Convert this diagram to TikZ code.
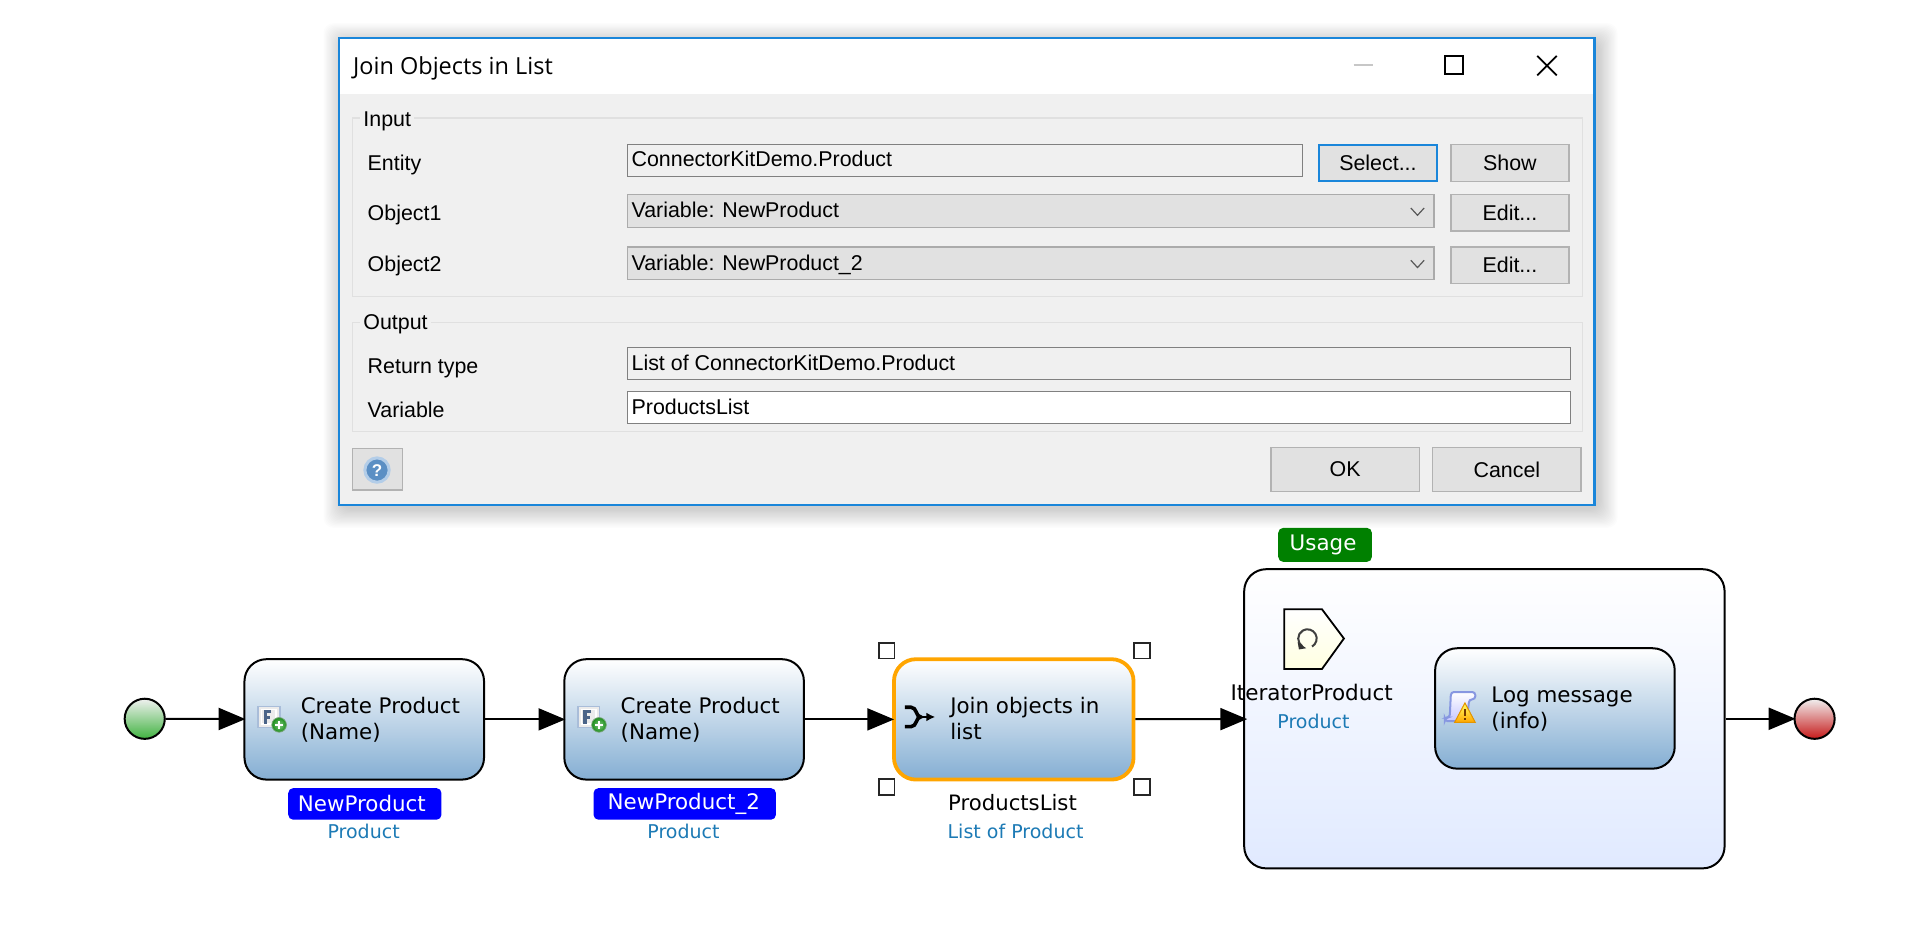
\documentclass[tikz,border=0pt]{standalone}
\usepackage{fontspec}
\setmainfont{DejaVu Sans}
\newfontfamily\dlgfont{Liberation Sans}
\newfontfamily\titlefont{Open Sans}
\usetikzlibrary{arrows.meta,positioning,shapes.geometric}

\newcommand{\ux}{0.608pt}
\definecolor{dlgblue}{HTML}{1A86DA}
\definecolor{dlgbg}{HTML}{F0F0F0}
\definecolor{btnbg}{HTML}{E1E1E1}
\definecolor{procbot}{HTML}{84AED3}
\definecolor{typeblue}{HTML}{1C7AB5}
\definecolor{selorange}{HTML}{FFA500}
\definecolor{iconsteel}{HTML}{4A6488}
\definecolor{iconedge}{HTML}{A9BDD9}
\definecolor{helpblue}{HTML}{5B8FC4}
\definecolor{helpring}{HTML}{B3CDE8}

\tikzset{
  groupbox/.style={draw=black!12,line width=0.6pt},
  legend/.style={fill=dlgbg,inner sep=1.5pt,anchor=base west,font=\dlgfont\fontsize{10.7}{12}\selectfont},
  dlgtext/.style={inner sep=0pt,anchor=base west,font=\dlgfont\fontsize{10.7}{12}\selectfont},
  fieldbox/.style={draw=black!50,fill=dlgbg,line width=0.6pt},
  combobox/.style={draw=black!33,fill=btnbg,line width=0.7pt},
  btn/.style={draw=black!30,fill=btnbg,line width=0.7pt,minimum width=97*\ux,minimum height=30*\ux,inner sep=0pt,font=\dlgfont\fontsize{10.7}{12}\selectfont},
  proc/.style={draw,line width=1pt,rounded corners=11pt,top color=white,bottom color=procbot,minimum width=197*\ux,minimum height=99*\ux},
  proctext/.style={inner sep=0pt,anchor=west,align=left,font=\fontsize{10.7}{12.9}\selectfont},
  event/.style={circle,draw,line width=1pt,minimum size=33*\ux,inner sep=0pt},
  badge/.style={text=white,rounded corners=2.5pt,minimum height=26*\ux,inner sep=0pt,font=\fontsize{10.7}{12}\selectfont},
  typetext/.style={text=typeblue,inner sep=0pt,font=\fontsize{9.5}{11}\selectfont},
  namealone/.style={inner sep=0pt,font=\fontsize{10.6}{12}\selectfont},
  handle/.style={draw=black!85,fill=white,line width=0.8pt,minimum size=13*\ux,inner sep=0pt},
  flow/.style={-{Triangle[length=13.4pt,width=11pt]},line width=1pt,shorten >=-1pt},
  % small icons of the activities
  newobj/.pic={
    \fill[black!8,draw=iconedge,line width=0.8pt] (-11,-9) rectangle (7,8);
    \draw[white,line width=0.8pt] (-8,-6.5) rectangle (4,5.5);
    \draw[iconsteel,line width=1.6pt] (0,-5) -- (-5,-5) -- (-5,5);
    \draw[iconsteel,line width=1.2pt] (-5,0) -- (-1,0);
    \shade[inner color=green!35!white!80!black,outer color=green!50!black!90,draw=green!35!black!55,line width=0.4pt] (6.5,6) circle (6);
    \draw[white,line width=1pt] (3.5,6) -- (9.5,6) (6.5,3) -- (6.5,9);
  },
  joinsym/.pic={
    \draw[line width=1.8pt] (-11,-8) -- (-6,-8) .. controls (-1,-8) and (-2,0) .. (2,0) .. controls (-2,0) and (-1,8) .. (-6,8) -- (-11,8);
    \draw[-{Latex[length=4.5pt,width=4.5pt]},line width=1pt] (2,0) -- (14,0);
  },
  logsym/.pic={
    \draw[top color=white,bottom color=blue!22!white,draw=iconedge!80!blue,line width=1pt,rounded corners=1.5pt] (-7,-12) -- (13,-12) -- (13,-6) -- (8,-6) -- (6,12) -- (-12,12) -- (-12,9) -- (-8,9) -- cycle;
    \fill[top color=yellow!60!white,bottom color=orange!70!yellow,draw=orange!70!yellow!90!black,line width=0.5pt] (4.5,-3) -- (13,13) -- (-4,13) -- cycle;
    \draw[black!55!orange,line width=0.8pt] (4.5,2) -- (4.5,8) (4.5,9.5) -- (4.5,11);
  },
  loopsym/.pic={
    \draw[black!75,line width=1pt] (3.8,6.6) arc (60:-235:7.6);
    \fill[black!80] (-8,3) -- (-1,8) -- (-7,9) -- cycle;
  },
}

\begin{document}
\begin{tikzpicture}[x=\ux,y=-\ux,on grid]
\useasboundingbox (0,0) rectangle (1568,769.6);

% dialog window
\foreach \s in {1,...,16}
  \fill[black,opacity=0.011,rounded corners=5pt] (282-\s,35-\s) rectangle (1314+\s,418+\s);
\fill[dlgbg] (279,31) rectangle (1311,415);
\fill[white] (279,31) rectangle (1311,77);
\draw[dlgblue,line width=1.1pt] (279,31) rectangle (1311,415);
\node[inner sep=0pt,anchor=base west,font=\titlefont\fontsize{11.75}{13}\selectfont] (title) at (290,61) {Join Objects in List};
\draw[black!22,line width=1pt] (1113,53.5) -- (1129,53.5);
\draw[line width=1.1pt] (1188,46) rectangle (1203,61);
\draw[line width=0.9pt] (1264,46) -- (1280,62) (1280,46) -- (1264,62);

\draw[groupbox] (290,97) rectangle (1301,244);
\draw[groupbox] (290,265) rectangle (1301,355);
\node[legend] (input) at (296,104) {Input};
\node[legend] (output) at (296,271) {Output};

\node[dlgtext] (lentity) at (302,140) {Entity};
\node[dlgtext] (lobject1) at (302,181) {Object1};
\node[dlgtext] (lobject2) at (302,223) {Object2};
\node[dlgtext] (lreturn) at (302,307) {Return type};
\node[dlgtext] (lvariable) at (302,343) {Variable};

\draw[fieldbox] (516,119) rectangle (1071,145);
\draw[combobox] (516,160) rectangle (1179,187);
\draw[combobox] (516,203) rectangle (1179,230);
\draw[fieldbox] (516,286) rectangle (1291,312);
\draw[fieldbox,fill=white] (516,322) rectangle (1291,348);
\node[dlgtext] (ventity) at (519,137) {ConnectorKitDemo.Product};
\node[dlgtext] (vobject1) at (519,179) {Variable: NewProduct};
\node[dlgtext] (vobject2) at (519,222) {Variable: NewProduct\_2};
\node[dlgtext] (vreturn) at (519,305) {List of ConnectorKitDemo.Product};
\node[dlgtext] (vvariable) at (519,341) {ProductsList};
\draw[black!65,line width=0.6pt] (1160,171) -- (1165.5,177) -- (1171,171);
\draw[black!65,line width=0.6pt] (1160,214) -- (1165.5,220) -- (1171,214);

\node[btn,draw=dlgblue,line width=1.1pt] (select) at (1133,134) {Select...};
\node[btn] (show) at (1241.5,134) {Show};
\node[btn] (edit1) at (1241.5,175) {Edit...};
\node[btn] (edit2) at (1241.5,218) {Edit...};
\node[btn,minimum width=122*\ux,minimum height=36*\ux] (ok) at (1106,386) {OK};
\node[btn,minimum width=122*\ux,minimum height=36*\ux] (cancel) at (1239,386) {Cancel};
\node[btn,minimum width=41*\ux,minimum height=34*\ux] (help) at (310.5,386) {};
\node[circle,draw=helpring,line width=1.5pt,fill=helpblue,minimum size=20*\ux,inner sep=0pt,text=white,font=\dlgfont\bfseries\fontsize{8.5}{9}\selectfont] (helpmark) at (310,386.5) {?};

% microflow
\node[event,top color=green!8!black!6,bottom color=green!60!black!75] (start) at (119,591) {};
\node[proc] (create1) at (299.5,591.5) {};
\node[proc] (create2) [right=159.9pt of create1] {};
\node[proc,draw=selorange,line width=1.9pt] (join) [right=164.8pt of create2] {};
\node[draw,line width=1pt,rounded corners=11pt,top color=white,bottom color=blue!70!cyan!12,minimum width=395*\ux,minimum height=246*\ux] (loop) at (1220.5,591) {};
\node[proc] (logmsg) at (1278.5,582.5) {};
\node[event,top color=red!8!black!6,bottom color=red!75!black!90] (stop) at (1492,591) {};

\path[flow] (start) edge (create1);
\path[flow] (create1) edge (create2);
\path[flow] (create2) edge (join);
\path[flow,shorten >=-2pt] (join) edge (loop);
\path[flow] (loop) edge (stop);

\node[proctext] (create1text) at (247,591.5) {Create Product\\(Name)};
\node[proctext] (create2text) at (510,591.5) {Create Product\\(Name)};
\node[proctext] (jointext) at (781,590.5) {Join objects in\\list};
\node[proctext] (logtext) at (1226,583) {Log message\\(info)};

\node[badge,fill=blue,minimum width=126*\ux] (var1) at (300,661) {\kern-3pt\raisebox{0.5pt}{NewProduct}};
\node[badge,fill=blue,minimum width=150*\ux] (var2) at (563,661) {\kern-1pt\raisebox{0.5pt}{NewProduct\_2}};
\node[typetext] (type1) at (299,684) {Product};
\node[typetext] (type2) at (562,684) {Product};
\node[namealone] (var3) at (832.5,660) {ProductsList};
\node[typetext] (type3) at (835,684) {List of Product};

\node[handle] (hnw) at (729,535) {};
\node[handle] (hne) at (939,535) {};
\node[handle] (hsw) at (729,647) {};
\node[handle] (hse) at (939,647) {};

\node[badge,fill=green!50!black,minimum width=77*\ux,minimum height=28*\ux] (usage) at (1089.5,448) {\kern-2pt Usage};
\draw[line width=0.9pt,top color=white,bottom color=yellow!12] (1056,501) -- (1087,501) -- (1105,525) -- (1087,550) -- (1056,550) -- cycle;
\node[namealone,font=\fontsize{10.75}{12}\selectfont] (itername) at (1078.5,569) {IteratorProduct};
\node[typetext] (itertype) at (1080,593) {Product};

\pic at (223,590) {newobj};
\pic at (486,590) {newobj};
\pic at (755,589.5) {joinsym};
\pic at (1200,581) {logsym};
\pic at (1075,525) {loopsym};
\end{tikzpicture}
\end{document}
